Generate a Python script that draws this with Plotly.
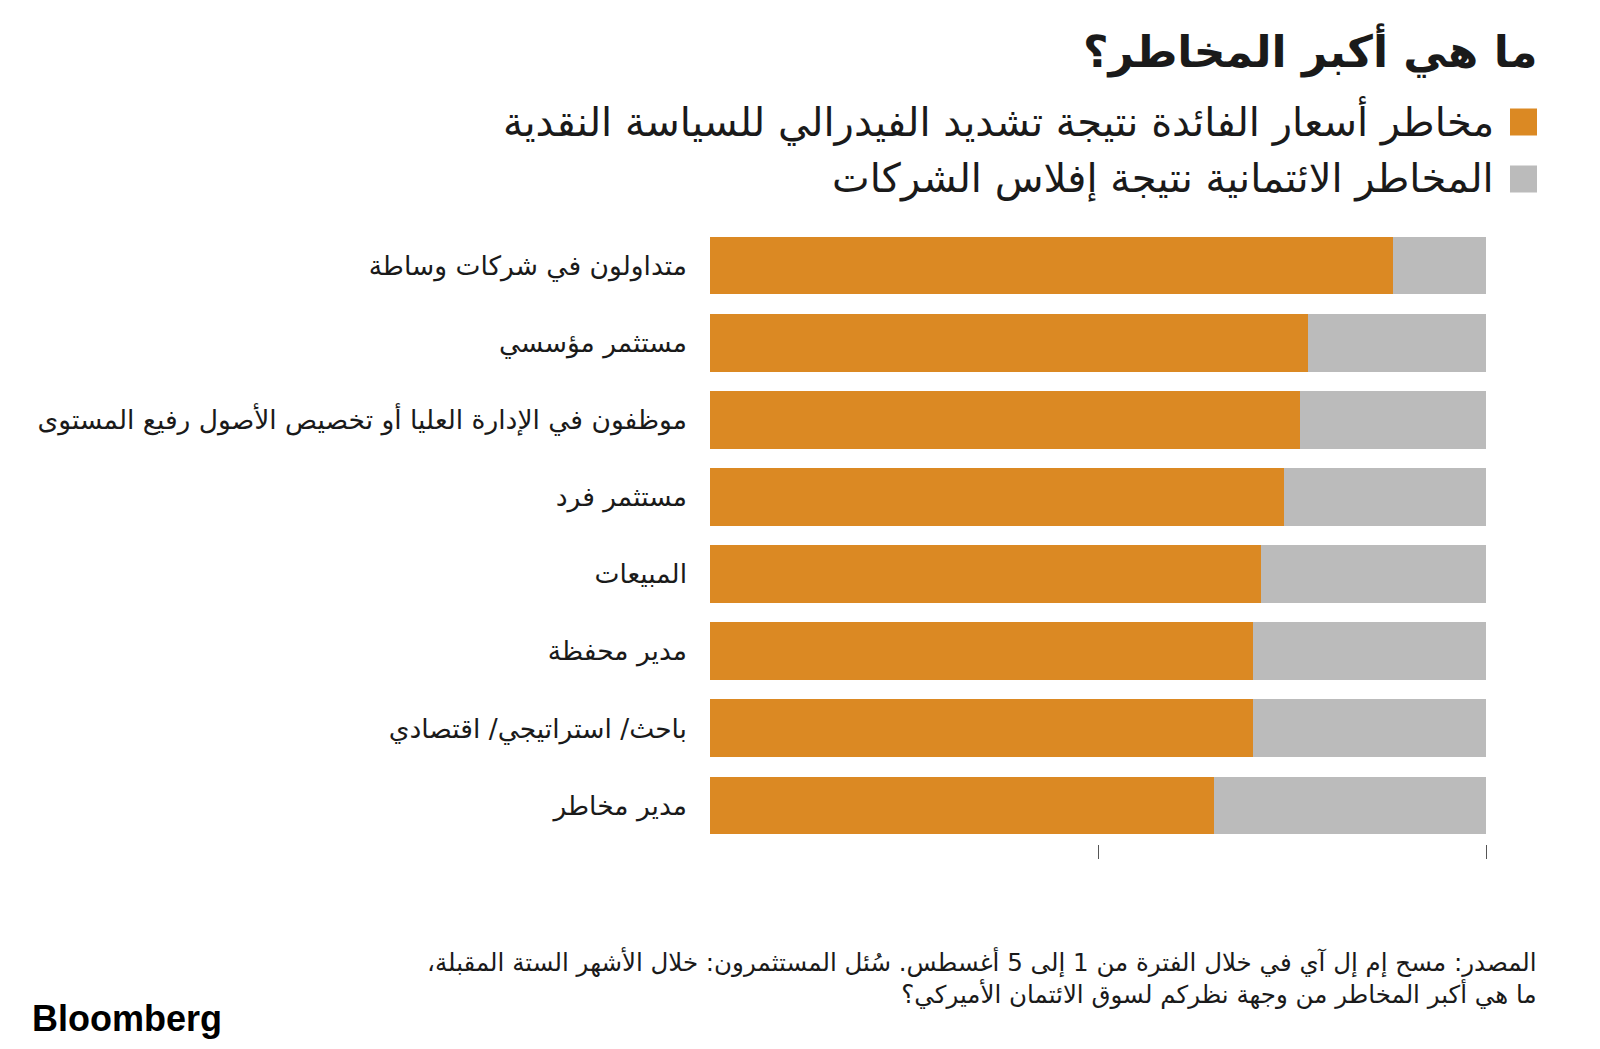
import plotly.graph_objects as go

categories = [
    "متداولون في شركات وساطة",
    "مستثمر مؤسسي",
    "موظفون في الإدارة العليا أو تخصيص الأصول رفيع المستوى",
    "مستثمر فرد",
    "المبيعات",
    "مدير محفظة",
    "باحث/ استراتيجي/ اقتصادي",
    "مدير مخاطر",
]
rate_risk = [88, 77, 76, 74, 71, 70, 70, 65]
credit_risk = [12, 23, 24, 26, 29, 30, 30, 35]
series_names = [
    "مخاطر أسعار الفائدة نتيجة تشديد الفيدرالي للسياسة النقدية",
    "المخاطر الائتمانية نتيجة إفلاس الشركات",
]
x_ticks = [50, 100]

ORANGE = "#DB8923"
GREY = "#BBBBBB"
FONT = "DejaVu Sans, sans-serif"
RLM = "\u200f"

fig = go.Figure()
fig.add_trace(go.Bar(y=categories, x=rate_risk, orientation="h", name=series_names[0],
                     marker=dict(color=ORANGE, line=dict(width=0)), showlegend=False))
fig.add_trace(go.Bar(y=categories, x=credit_risk, orientation="h", name=series_names[1],
                     marker=dict(color=GREY, line=dict(width=0)), showlegend=False))

W, H = 1600, 1049
L, R, T, B = 710, 114, 227, 205

fig.update_layout(
    width=W, height=H,
    barmode="stack", bargap=0.25,
    paper_bgcolor="white", plot_bgcolor="white",
    margin=dict(l=L, r=R, t=T, b=B, autoexpand=False),
    font=dict(family=FONT, color="#1a1a1a"),
    xaxis=dict(range=[0, 100], tickvals=x_ticks, showticklabels=False, ticks="outside",
               ticklen=14, tickwidth=1, tickcolor="#555", showgrid=False, zeroline=False,
               showline=False, fixedrange=True),
    yaxis=dict(autorange="reversed", showgrid=False, zeroline=False, showline=False,
               ticks="", ticklabelstandoff=22, tickfont=dict(size=26.5, color="#1a1a1a", family=FONT)),
)

ann = []
def add_text(text, xpix, ypix, size, anchor="right", color="#1a1a1a", family=FONT):
    ann.append(dict(text=text, xref="paper", yref="paper",
                    x=(xpix - L) / (W - L - R), y=(H - B - ypix) / (H - T - B),
                    xanchor=anchor, yanchor="middle", showarrow=False,
                    font=dict(size=size, color=color, family=family), align=anchor))

add_text("<b>ما هي أكبر المخاطر؟</b>", 1539, 50, 44)
add_text(series_names[0], 1496, 121, 40)
add_text(series_names[1], 1496, 178, 40)
add_text("المصدر: مسح إم إل آي في خلال الفترة من 1 إلى 5 أغسطس. سُئل المستثمرون: خلال الأشهر الستة المقبلة،" + RLM
         + "<br>ما هي أكبر المخاطر من وجهة نظركم لسوق الائتمان الأميركي؟", 1539, 978, 24.5)
add_text("<b>Bloomberg</b>", 30, 1018, 36, anchor="left", color="#000", family="Liberation Sans, Arial, sans-serif")
fig.update_layout(annotations=ann)

shapes = []
for i, col in enumerate([ORANGE, GREY]):
    yc = 122 + i * 57
    shapes.append(dict(type="rect", xref="paper", yref="paper",
                       x0=(1510 - L) / (W - L - R), x1=(1537 - L) / (W - L - R),
                       y0=(H - B - (yc + 13.5)) / (H - T - B), y1=(H - B - (yc - 13.5)) / (H - T - B),
                       fillcolor=col, line=dict(width=0)))
fig.update_layout(shapes=shapes)

fig.write_html("out.html")
